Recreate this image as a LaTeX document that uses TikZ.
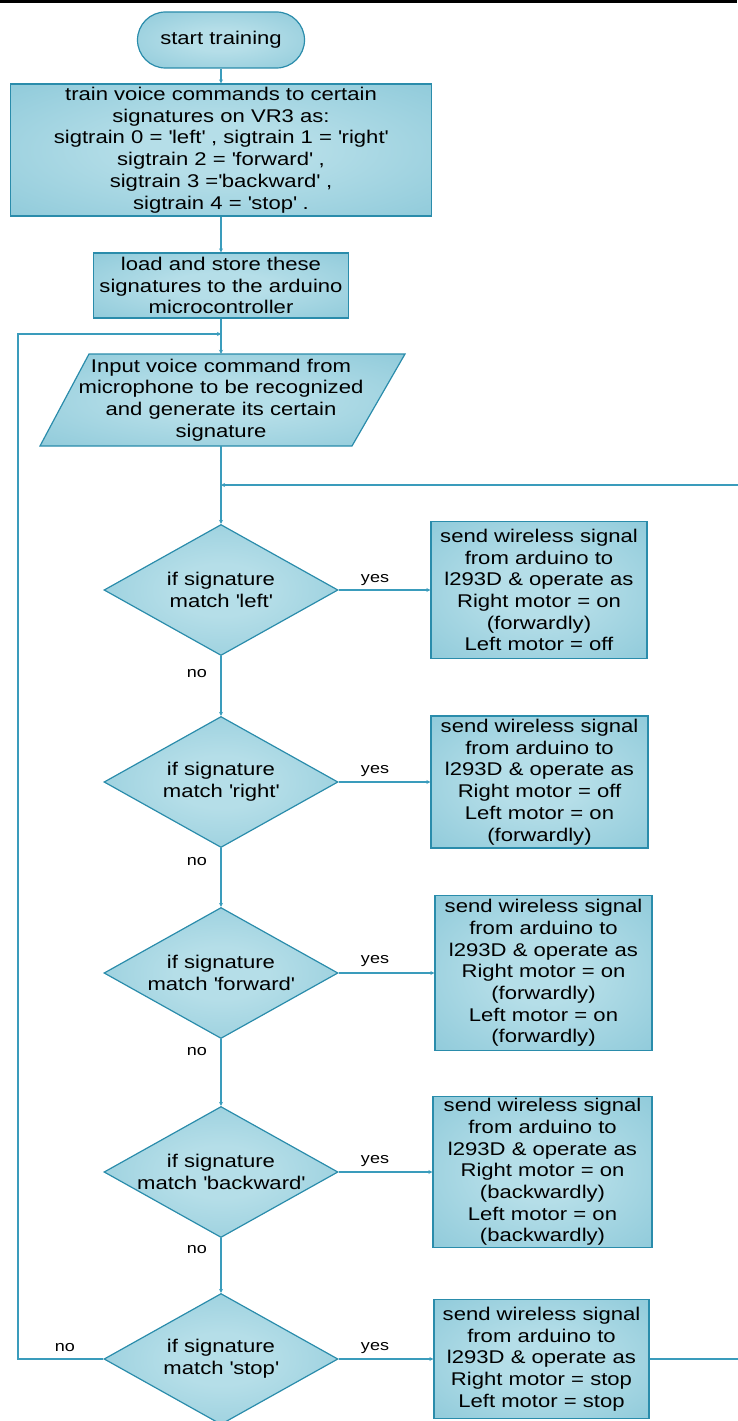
\documentclass[tikz,border=0pt]{standalone}
\usepackage{fontspec}
\setmainfont[FakeStretch=1.2]{Liberation Sans}
\usetikzlibrary{shapes.geometric,arrows.meta}
\definecolor{cin}{HTML}{B5DEE8}
\definecolor{cout}{HTML}{7CC0D3}
\definecolor{bord}{HTML}{2A8CAB}
\definecolor{conn}{HTML}{3A9CBC}
\newcommand{\sq}{\textquotesingle}
\pgfdeclareradialshading{fillshade}{\pgfpoint{0bp}{0bp}}{color(0bp)=(cin); color(10bp)=(cin); color(50bp)=(cout); color(75bp)=(cout)}
\tikzset{
  txt/.style={font={\fontsize{18.4}{21.7}\selectfont}, align=center, inner sep=0pt},
  flowbox/.style={txt, draw=bord, line width=1.2pt, shade, shading=fillshade},
  termbox/.style={flowbox, rounded corners=28pt},
  decbox/.style={diamond, draw=bord, line width=1.2pt, shade, shading=fillshade, inner sep=0pt, minimum width=234pt, minimum height=131pt},
  conline/.style={draw=conn, line width=1.3pt},
  arr/.style={conline, -{Stealth[length=4pt,width=4pt]}},
  lbl/.style={font={\fontsize{15}{17}\selectfont}, inner sep=0pt},
}
\begin{document}
\begin{tikzpicture}[x=1pt,y=-1pt]
\useasboundingbox (0,0) rectangle (737,1421);
\fill[black] (0,0) rectangle (737,3.5);

\node[termbox, minimum width=167pt, minimum height=56pt] (start) at (221,40) {start training};
\node[flowbox, minimum width=421pt, minimum height=132pt] (train) at (221,150)
 {train voice commands to certain\\signatures on VR3 as:\\sigtrain 0 = \sq left\sq{} , sigtrain 1 = \sq right\sq\\sigtrain 2 = \sq forward\sq{} ,\\sigtrain 3 =\sq backward\sq{} ,\\sigtrain 4 = \sq stop\sq{} .};
\node[flowbox, minimum width=255pt, minimum height=65pt] (load) at (221,285.5)
 {load and store these\\signatures to the arduino\\microcontroller};

\shadedraw[draw=bord, line width=1.2pt, shading=fillshade] (89,354) -- (405,354) -- (352,446) -- (40,446) -- cycle;
\node[txt, minimum width=300pt, minimum height=92pt] (input) at (221,400)
 {Input voice command from\\microphone to be recognized\\and generate its certain\\signature};

\node[decbox] (d1) at (221,590) {};
\node[txt] (d1t) at (d1) {if signature\\match \sq left\sq};
\node[decbox] (d2) at (221,782) {};
\node[txt] (d2t) at (d2) {if signature\\match \sq right\sq};
\node[decbox] (d3) at (221,973) {};
\node[txt] (d3t) at (d3) {if signature\\match \sq forward\sq};
\node[decbox] (d4) at (221,1172) {};
\node[txt] (d4t) at (d4) {if signature\\match \sq backward\sq};
\node[decbox] (d5) at (221,1359) {};
\node[txt] (d5t) at (d5) {if signature\\match \sq stop\sq};

\node[flowbox, minimum width=216pt, minimum height=137pt] (b1) at (539,590)
 {send wireless signal\\from arduino to\\l293D \& operate as\\Right motor = on\\(forwardly)\\Left motor = off};
\node[flowbox, minimum width=217pt, minimum height=132pt] (b2) at (539.5,782)
 {send wireless signal\\from arduino to\\l293D \& operate as\\Right motor = off\\Left motor = on\\(forwardly)};
\node[flowbox, minimum width=217pt, minimum height=155pt] (b3) at (543.5,973)
 {send wireless signal\\from arduino to\\l293D \& operate as\\Right motor = on\\(forwardly)\\Left motor = on\\(forwardly)};
\node[flowbox, minimum width=219pt, minimum height=151pt] (b4) at (542.5,1172)
 {send wireless signal\\from arduino to\\l293D \& operate as\\Right motor = on\\(backwardly)\\Left motor = on\\(backwardly)};
\node[flowbox, minimum width=215pt, minimum height=119pt] (b5) at (541.5,1359)
 {send wireless signal\\from arduino to\\l293D \& operate as\\Right motor = stop\\Left motor = stop};

\coordinate (j1) at (221,334);
\coordinate (lft) at (18,334);
\coordinate (j2) at (221,485);
\coordinate (rgt) at (742,485);

\draw[arr] (start) -- (train);
\draw[arr] (train) -- (load);
\draw[conline] (load) -- (j1);
\draw[arr] (j1) -- (input.north);
\draw[arr] (input.south) -- (d1);
\draw[arr] (d1) -- (d2);
\draw[arr] (d2) -- (d3);
\draw[arr] (d3) -- (d4);
\draw[arr] (d4) -- (d5);
\draw[arr] (d1) -- (b1);
\draw[arr] (d2) -- (b2);
\draw[arr] (d3) -- (b3);
\draw[arr] (d4) -- (b4);
\draw[arr] (d5) -- (b5);
\draw[arr] (d5.west) -| (lft) -- (j1);
\draw[arr] (b5.east) -| (rgt) -- (j2);

\node[lbl] (y1) at (375,580) {yes};
\node[lbl] (y2) at (375,771) {yes};
\node[lbl] (y3) at (375,961) {yes};
\node[lbl] (y4) at (375,1161) {yes};
\node[lbl] (y5) at (375,1348) {yes};
\node[lbl] (n1) at (197,674) {no};
\node[lbl] (n2) at (197,862) {no};
\node[lbl] (n3) at (197,1052) {no};
\node[lbl] (n4) at (197,1250) {no};
\node[lbl] (n5) at (65,1348) {no};
\end{tikzpicture}
\end{document}
